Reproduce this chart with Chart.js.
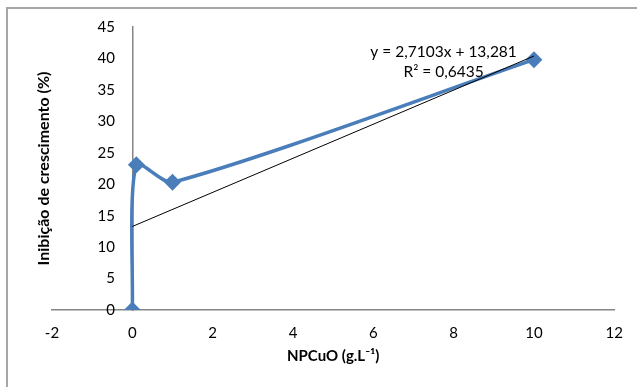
<!DOCTYPE html>
<html lang="pt">
<head>
<meta charset="UTF-8">
<title>Inibição de crescimento</title>
<script src="https://cdn.jsdelivr.net/npm/chart.js"></script>
<style>
  * { margin: 0; padding: 0; box-sizing: border-box; }
  body { background: #fff; width: 637px; height: 387px; overflow: hidden; position: relative; }
  .frame { position: absolute; left: 6px; top: 7px; width: 700px; height: 400px; border-top: 2px solid #a6a6a6; border-left: 2px solid #a6a6a6; }
  .wrap { position: absolute; left: 0; top: 0; width: 637px; height: 387px; }
</style>
</head>
<body>
<div class="frame"></div>
<div class="wrap"><canvas id="chart"></canvas></div>
<script>
// concentração de NPCuO (g/L) e inibição (%)
const concentracao = [0, 0.1, 1, 10];
const inibicao = [0, 23.1, 20.3, 39.8];

// linha de tendência linear (Excel)
const slope = 2.7103;
const intercept = 13.281;
const r2 = 0.6435;
const trendX = [0, 10];

const fmt = v => String(v).replace(".", ",");

const trendLabel = {
  id: "trendLabel",
  afterDatasetsDraw(chart) {
    const { ctx, scales: { x, y } } = chart;
    ctx.save();
    ctx.fillStyle = "#000";
    ctx.font = "15.5px Lato";
    ctx.textAlign = "center";
    ctx.textBaseline = "middle";
    const cx = x.getPixelForValue(7.75);
    ctx.fillText("y = " + fmt(slope) + "x + " + fmt(intercept), cx, y.getPixelForValue(41.0));
    ctx.fillText("R² = " + fmt(r2), cx, y.getPixelForValue(37.8));
    ctx.restore();
  }
};

new Chart(document.getElementById("chart"), {
  type: "line",
  data: {
    datasets: [
      {
        data: concentracao.map((c, i) => ({ x: c, y: inibicao[i] })),
        borderColor: "#4a7ebb",
        backgroundColor: "#4a7ebb",
        borderWidth: 3.5,
        tension: 0.25,
        pointStyle: "rectRot",
        pointRadius: 6,
        pointHoverRadius: 6,
        order: 1
      },
      {
        data: trendX.map(c => ({ x: c, y: slope * c + intercept })),
        borderColor: "#000",
        borderWidth: 1,
        pointRadius: 0,
        tension: 0,
        order: 0
      }
    ]
  },
  options: {
    responsive: true,
    maintainAspectRatio: false,
    animation: false,
    events: [],
    layout: { padding: { left: 36, right: 19, top: 27, bottom: 18 } },
    plugins: { legend: { display: false }, tooltip: { enabled: false } },
    scales: {
      x: {
        type: "linear",
        min: -2, max: 12,
        grid: { display: false, drawTicks: false },
        border: { color: "#868686", width: 1.5 },
        ticks: { stepSize: 2, padding: 14, color: "#000", font: { family: "Lato", size: 15 } },
        title: {
          display: true, text: "NPCuO (g.L⁻¹)", color: "#000",
          font: { family: "Lato", size: 15, weight: "bold" },
          padding: { top: 4, bottom: 4 }
        },
        afterFit(scale) { scale.height = 59; }
      },
      y: {
        type: "linear",
        position: { x: 0 },
        min: 0, max: 45,
        grid: { display: false, drawTicks: false },
        border: { color: "#868686", width: 1.5 },
        ticks: {
          stepSize: 5, color: "#000", font: { family: "Lato", size: 15 },
          callback: v => v + "\u2007\u2007"
        }
      },
      yTitle: {
        type: "linear",
        position: "left",
        min: 0, max: 45,
        grid: { display: false, drawTicks: false },
        border: { display: false },
        ticks: { display: false },
        title: {
          display: true, text: "Inibição de crescimento (%)", color: "#000",
          font: { family: "Lato", size: 16, weight: "bold", lineHeight: 1 },
          padding: 0
        }
      }
    }
  },
  plugins: [trendLabel]
});
</script>
</body>
</html>
